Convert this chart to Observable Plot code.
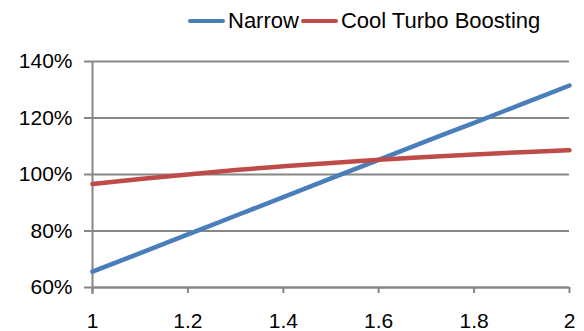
<!DOCTYPE html>
<html><head><meta charset="utf-8">
<script src="https://cdn.jsdelivr.net/npm/d3@7"></script>
<script src="https://cdn.jsdelivr.net/npm/@observablehq/plot@0.6"></script>
<style>
body{margin:0;background:#fff;}
#wrap{position:relative;width:584px;height:331px;font-family:"Liberation Sans",Arial,sans-serif;}
#legend{position:absolute;top:8px;left:188px;display:flex;align-items:center;font-size:22px;color:#000;white-space:nowrap;}
.sw{display:inline-block;width:37px;height:4px;border-radius:2px;margin-right:3px;}
.item{display:flex;align-items:center;margin-right:2px;}
#chart{position:absolute;top:0;left:0;}
</style>
</head><body>
<div id="wrap"><div id="chart"></div><div id="legend"></div></div>
<script>
const xs = [1, 1.1, 1.2, 1.3, 1.4, 1.5, 1.6, 1.7, 1.8, 1.9, 2];
const narrow = [65.6, 72.2, 78.8, 85.4, 92.0, 98.6, 105.2, 111.8, 118.3, 124.9, 131.5];
const coolTurbo = [96.6, 98.4, 100.0, 101.6, 102.9, 104.1, 105.2, 106.2, 107.1, 107.9, 108.6];
const seriesNames = ["Narrow", "Cool Turbo Boosting"];
const seriesColors = ["#4A7EBB", "#BE4B48"];
const xTicks = [1, 1.2, 1.4, 1.6, 1.8, 2];
const yTicks = [60, 80, 100, 120, 140];

const data = [];
xs.forEach((x, i) => {
  data.push({x, y: narrow[i], s: seriesNames[0]});
  data.push({x, y: coolTurbo[i], s: seriesNames[1]});
});

const grid = "#878787";
const plot = Plot.plot({
  width: 584,
  height: 331,
  marginTop: 61,
  marginBottom: 44,
  marginLeft: 92,
  marginRight: 15,
  style: {fontFamily: '"Liberation Sans", Arial, sans-serif', fontSize: "21px", color: "#000", background: "#fff"},
  x: {domain: [1, 2]},
  y: {domain: [60, 140]},
  color: {domain: seriesNames, range: seriesColors},
  marks: [
    Plot.gridY(yTicks, {stroke: grid, strokeOpacity: 1, strokeWidth: 2}),
    Plot.ruleY([60], {stroke: grid, strokeWidth: 2}),
    Plot.ruleX([1], {stroke: grid, strokeWidth: 2, insetBottom: -7}),
    Plot.axisY(yTicks, {tickSize: 8, tickPadding: 12, stroke: grid, strokeWidth: 2, fill: "#000", fontSize: 21, tickFormat: d => d + "%", label: null}),
    Plot.axisX(xTicks, {tickSize: 6, tickPadding: 20, stroke: grid, strokeWidth: 2, fill: "#000", fontSize: 21, tickFormat: d => String(d), label: null}),
    Plot.line(data, {x: "x", y: "y", z: "s", stroke: "s", strokeWidth: 4.5, curve: "monotone-x"})
  ]
});
document.getElementById("chart").appendChild(plot);

const leg = document.getElementById("legend");
seriesNames.forEach((n, i) => {
  const it = document.createElement("span");
  it.className = "item";
  const sw = document.createElement("span");
  sw.className = "sw";
  sw.style.background = seriesColors[i];
  it.appendChild(sw);
  it.appendChild(document.createTextNode(n));
  leg.appendChild(it);
});
</script>
</body></html>
